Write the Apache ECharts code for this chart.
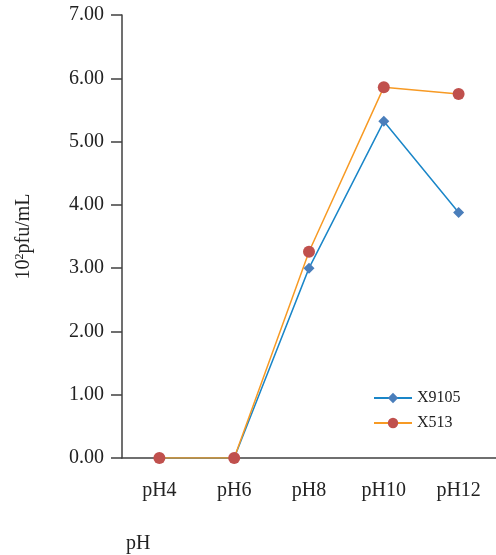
<!DOCTYPE html>
<html>
<head>
<meta charset="utf-8">
<script src="https://cdn.jsdelivr.net/npm/echarts@6/dist/echarts.min.js"></script>
<style>
  html, body { margin: 0; padding: 0; background: #fff; }
  #main { width: 496px; height: 555px; }
</style>
</head>
<body>
<div id="main"></div>
<script>
// 数据
var categories = ['pH4', 'pH6', 'pH8', 'pH10', 'pH12'];
var x9105 = [0, 0, 3.00, 5.32, 3.88];
var x513 = [0, 0, 3.26, 5.86, 5.75];

var myChart = echarts.init(document.getElementById('main'));
var fontFamily = '"Liberation Serif", "DejaVu Serif", serif';

var option = {
    animation: false,
    textStyle: { fontFamily: fontFamily },
    grid: {
        left: 122,
        top: 15,
        bottom: 97,
        right: 0
    },
    legend: {
        orient: 'vertical',
        left: 368,
        top: 385,
        itemWidth: 38,
        itemHeight: 13,
        itemGap: 9,
        textStyle: { fontSize: 16, color: '#222', fontFamily: fontFamily },
        data: ['X9105', 'X513']
    },
    xAxis: {
        type: 'category',
        data: categories,
        boundaryGap: true,
        axisLine: { lineStyle: { color: '#404040', width: 1.5 } },
        axisTick: { show: false },
        axisLabel: { margin: 23, fontSize: 20, color: '#222', fontFamily: fontFamily }
    },
    yAxis: {
        type: 'value',
        min: 0,
        max: 7,
        interval: 1,
        name: '{n|10}{s|2}{n|pfu/mL}',
        nameLocation: 'middle',
        nameRotate: 90,
        nameGap: 88,
        nameTextStyle: {
            rich: {
                n: { fontSize: 20, color: '#222', fontFamily: fontFamily },
                s: { fontSize: 12, color: '#222', fontFamily: fontFamily, verticalAlign: 'top', padding: [0, 0, 8, 0] }
            }
        },
        splitLine: { show: false },
        axisLine: { show: true, lineStyle: { color: '#404040', width: 1.5 } },
        axisTick: { show: true, length: 11, lineStyle: { color: '#404040', width: 1.5 } },
        axisLabel: {
            margin: 18,
            fontSize: 20,
            color: '#222',
            fontFamily: fontFamily,
            formatter: function (v) { return v.toFixed(2); }
        }
    },
    graphic: [{
        type: 'text',
        left: 126,
        top: 534,
        style: { text: 'pH', fontSize: 20, fill: '#222', fontFamily: fontFamily }
    }],
    series: [
        {
            name: 'X9105',
            type: 'line',
            data: x9105,
            symbol: 'diamond',
            symbolSize: 11,
            lineStyle: { color: '#1a86c8', width: 1.5 },
            itemStyle: { color: '#4a7ebb' }
        },
        {
            name: 'X513',
            type: 'line',
            data: x513,
            symbol: 'circle',
            symbolSize: 12,
            lineStyle: { color: '#f79a24', width: 1.5 },
            itemStyle: { color: '#c0504d' }
        }
    ]
};

myChart.setOption(option);
</script>
</body>
</html>
